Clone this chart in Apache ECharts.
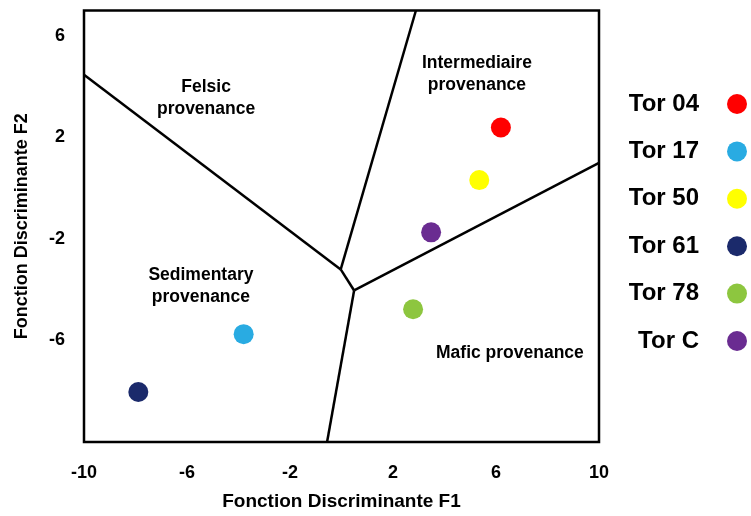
<!DOCTYPE html>
<html>
<head>
<meta charset="utf-8">
<style>html,body{margin:0;padding:0;background:#fff;}#c{width:751px;height:516px;}</style>
<script src="https://cdn.jsdelivr.net/npm/echarts@6/dist/echarts.min.js"></script>
</head>
<body>
<div id="c"></div>
<script>
// Sample points [F1, F2]
const sampleNames = ['Tor 04', 'Tor 17', 'Tor 50', 'Tor 61', 'Tor 78', 'Tor C'];
const sampleColors = ['#FF0000', '#29ABE2', '#FFFF00', '#1B2A6B', '#8DC63F', '#6A2C91'];
const samplePoints = [
  [6.19, 2.39],
  [-3.80, -5.75],
  [5.35, 0.32],
  [-7.89, -8.03],
  [2.78, -4.77],
  [3.48, -1.74]
];
// Discriminant field boundaries
const boundaryFelsic = [[-10, 4.47], [-0.03, -3.20]];
const boundaryInterFelsic = [[2.89, 7], [-0.03, -3.20]];
const boundaryCenter = [[-0.03, -3.20], [0.49, -4.03]];
const boundaryMafic = [[0.49, -4.03], [10, 1.0]];
const boundarySed = [[0.49, -4.03], [-0.56, -10]];
// Field labels
const fieldLabels = [
  {name: 'Felsic\nprovenance', value: [-5.26, 3.53]},
  {name: 'Intermediaire\nprovenance', value: [5.26, 4.51]},
  {name: 'Sedimentary\nprovenance', value: [-5.46, -3.87]},
  {name: 'Mafic provenance', value: [6.54, -6.49]}
];
// Axis ticks
const xTicks = [-10, -6, -2, 2, 6, 10];
const yTicks = [-6, -2, 2, 6];

const FONT = 'Liberation Sans, Arial, sans-serif';
const chart = echarts.init(document.getElementById('c'), null, {renderer: 'canvas'});

const lineSeries = [boundaryFelsic, boundaryInterFelsic, boundaryCenter, boundaryMafic, boundarySed].map(d => ({
  type: 'line', data: d, showSymbol: false, silent: true,
  lineStyle: {color: '#000', width: 2.5}, z: 2, animation: false
}));

const pointSeries = sampleNames.map((n, i) => ({
  name: n, type: 'scatter', data: [samplePoints[i]], symbol: 'circle', symbolSize: 20,
  itemStyle: {color: sampleColors[i], opacity: 1}, z: 5, animation: false
}));

chart.setOption({
  animation: false,
  backgroundColor: '#fff',
  grid: {left: 84, right: 152, top: 10.5, bottom: 71.5, show: true, borderColor: '#000', borderWidth: 2.5, backgroundColor: 'transparent'},
  legend: {
    data: sampleNames, orient: 'vertical', right: 4, top: 92, align: 'right', padding: 0,
    icon: 'circle', itemWidth: 20, itemHeight: 20, itemGap: 23.4,
    textStyle: {fontFamily: FONT, fontWeight: 'bold', fontSize: 24, color: '#000', padding: [0, 23, 0, 0]},
    selectedMode: false
  },
  xAxis: {
    type: 'value', min: -10, max: 10, interval: 4,
    name: 'Fonction Discriminante F1', nameLocation: 'middle', nameGap: 50,
    nameTextStyle: {fontFamily: FONT, fontWeight: 'bold', fontSize: 19, color: '#000'},
    axisLine: {show: false}, axisTick: {show: false}, splitLine: {show: false},
    axisLabel: {fontFamily: FONT, fontWeight: 'bold', fontSize: 18, color: '#000', margin: 22,
      formatter: v => xTicks.includes(v) ? String(v) : ''}
  },
  yAxis: {
    type: 'value', min: -10, max: 7, interval: 4,
    name: 'Fonction Discriminante F2', nameLocation: 'middle', nameGap: 53,
    nameTextStyle: {fontFamily: FONT, fontWeight: 'bold', fontSize: 18, color: '#000'},
    axisLine: {show: false}, axisTick: {show: false}, splitLine: {show: false},
    showMinLabel: false, showMaxLabel: false,
    axisLabel: {fontFamily: FONT, fontWeight: 'bold', fontSize: 18, color: '#000', margin: 19,
      formatter: v => yTicks.includes(v) ? String(v) : ''}
  },
  series: [
    ...lineSeries,
    {
      type: 'scatter', data: fieldLabels, symbolSize: 0, silent: true, z: 4,
      itemStyle: {opacity: 1, color: '#000'},
      label: {show: true, position: 'inside', formatter: p => p.name, fontFamily: FONT, fontWeight: 'bold',
        fontSize: 17.5, lineHeight: 22, color: '#000', opacity: 1, align: 'center', verticalAlign: 'middle',
        textBorderWidth: 0}
    },
    ...pointSeries
  ]
});
</script>
</body>
</html>
